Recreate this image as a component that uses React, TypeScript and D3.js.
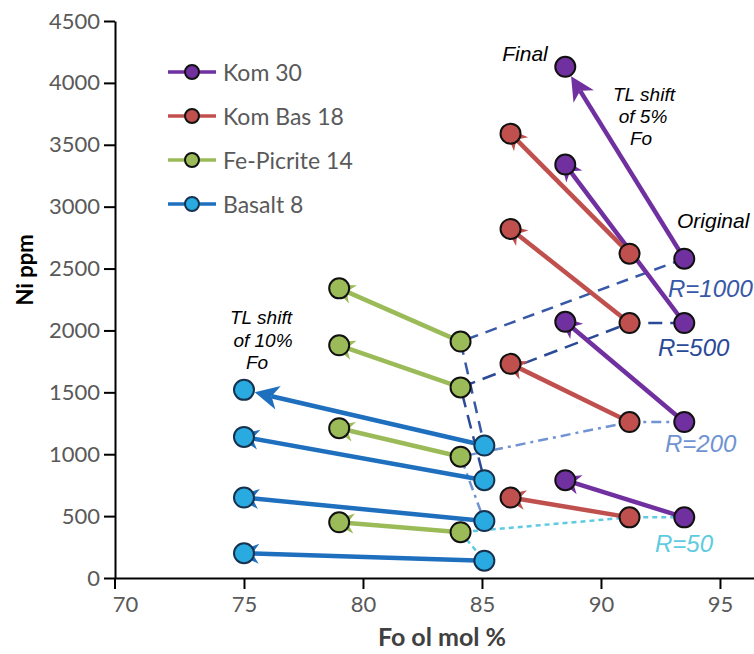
import React, { useEffect, useRef } from "react";
import * as d3 from "d3";

// series (magmas)
const seriesNames = ["Kom 30", "Kom Bas 18", "Fe-Picrite 14", "Basalt 8"];
const foOriginal = [93.5, 91.2, 84.1, 85.1];
const foFinal = [88.5, 86.2, 79.0, 75.0];

// Ni ppm, one value per R (1000, 500, 200, 50)
const kom30Original = [2580, 2060, 1260, 490];
const kom30Final = [4130, 3340, 2070, 790];
const komBas18Original = [2620, 2060, 1260, 490];
const komBas18Final = [3590, 2820, 1730, 650];
const fePicrite14Original = [1910, 1540, 980, 370];
const fePicrite14Final = [2340, 1880, 1210, 450];
const basalt8Original = [1070, 790, 460, 140];
const basalt8Final = [1520, 1140, 650, 200];

const rLabels = ["R=1000", "R=500", "R=200", "R=50"];
// series each R curve goes through (R=1000 skips Kom Bas 18)
const rMembers = [[0, 2, 3], [0, 1, 2, 3], [0, 1, 2, 3], [0, 1, 2, 3]];

const xTicks = [70, 75, 80, 85, 90, 95];
const yTicks = [0, 500, 1000, 1500, 2000, 2500, 3000, 3500, 4000, 4500];

const originals = [kom30Original, komBas18Original, fePicrite14Original, basalt8Original];
const finals = [kom30Final, komBas18Final, fePicrite14Final, basalt8Final];

const lineColors = ["#7030a0", "#c0504d", "#9bbb59", "#1f6fbf"];
const fillColors = ["#7030a0", "#c0504d", "#9bbb59", "#29abe2"];
const strokeColors = ["#111", "#111", "#111", "#17324f"];
const rColors = ["#3858a8", "#2a4997", "#7093d2", "#5ecbe0"];
const rDash = ["12,8", "14,8", "10,5,3,5", "5,4"];

function App() {
  const ref = useRef<SVGSVGElement>(null);

  useEffect(() => {
    const svg = d3.select(ref.current);
    svg.selectAll("*").remove();

    const x = d3.scaleLinear().domain([69.58, 96.43]).range([115, 754]);
    const y = d3.scaleLinear().domain([0, 4500]).range([578, 21]);
    const R = 10;

    // axes
    const yAxis = svg.append("g")
      .attr("transform", "translate(115,0)")
      .call(d3.axisLeft(y).tickValues(yTicks).tickFormat(d3.format("d")).tickSize(11).tickSizeOuter(0).tickPadding(4));
    const xAxis = svg.append("g")
      .attr("transform", "translate(0,578)")
      .call(d3.axisBottom(x).tickValues(xTicks).tickFormat(d3.format("d")).tickSize(11).tickSizeOuter(0).tickPadding(7));
    [yAxis, xAxis].forEach(a => {
      a.selectAll("path, line").attr("stroke", "#000").attr("stroke-width", 2);
      a.selectAll("text")
        .attr("fill", "#595959")
        .style("font-family", "Lato, sans-serif")
        .style("font-size", "22px");
    });
    xAxis.selectAll(".tick line").filter((d: any) => d === 70).remove();
    svg.append("line")
      .attr("x1", 115).attr("x2", 115).attr("y1", 578).attr("y2", 589)
      .attr("stroke", "#000").attr("stroke-width", 2);

    svg.append("text")
      .attr("transform", "translate(24,270) rotate(-90)")
      .attr("text-anchor", "middle").attr("dominant-baseline", "central")
      .style("font-family", "Lato, sans-serif").style("font-weight", "bold").style("font-size", "22px")
      .attr("fill", "#000").text("Ni ppm");
    svg.append("text")
      .attr("x", 442).attr("y", 636)
      .attr("text-anchor", "middle").attr("dominant-baseline", "central")
      .style("font-family", "Lato, sans-serif").style("font-weight", "bold").style("font-size", "25px")
      .attr("fill", "#404040").text("Fo ol mol %");

    // R curves through the original compositions
    const lineGen = d3.line<number[]>().x(d => d[0]).y(d => d[1]);
    rLabels.forEach((lab, k) => {
      const pts = rMembers[k].map(s => [x(foOriginal[s]), y(originals[s][k])]);
      svg.append("path")
        .attr("d", lineGen(pts))
        .attr("fill", "none")
        .attr("stroke", rColors[k])
        .attr("stroke-width", 2.5)
        .attr("stroke-dasharray", rDash[k]);
    });

    // arrows original -> final
    const arrowG = svg.append("g");
    const headG = svg.append("g");
    seriesNames.forEach((name, s) => {
      originals[s].forEach((v, k) => {
        const x0 = x(foOriginal[s]), y0 = y(v);
        const x1 = x(foFinal[s]), y1 = y(finals[s][k]);
        const len = Math.hypot(x1 - x0, y1 - y0);
        const ux = (x1 - x0) / len, uy = (y1 - y0) / len;
        const big = k === 0 && (s === 0 || s === 3);
        let tipX, tipY, L, Wd;
        if (big) {
          tipX = x1 - ux * (R + 1); tipY = y1 - uy * (R + 1); L = 24; Wd = 12;
        } else {
          tipX = x1 + ux * (R - 1); tipY = y1 + uy * (R - 1); L = 24; Wd = 10;
        }
        const bx = tipX - ux * L, by = tipY - uy * L;
        const nx = tipX - ux * L * 0.72, ny = tipY - uy * L * 0.72;
        arrowG.append("line")
          .attr("x1", x0).attr("y1", y0)
          .attr("x2", big ? nx : x1).attr("y2", big ? ny : y1)
          .attr("stroke", lineColors[s]).attr("stroke-width", 4.5);
        const px = -uy, py = ux;
        headG.append("path")
          .attr("d", `M${tipX},${tipY}L${bx + px * Wd},${by + py * Wd}L${nx},${ny}L${bx - px * Wd},${by - py * Wd}Z`)
          .attr("fill", lineColors[s]);
      });
    });

    // markers
    seriesNames.forEach((name, s) => {
      originals[s].forEach((v, k) => {
        [[foOriginal[s], v], [foFinal[s], finals[s][k]]].forEach(p => {
          svg.append("circle")
            .attr("cx", x(p[0])).attr("cy", y(p[1])).attr("r", R)
            .attr("fill", fillColors[s]).attr("stroke", strokeColors[s]).attr("stroke-width", 2);
        });
      });
    });

    // legend
    const leg = svg.append("g");
    seriesNames.forEach((name, s) => {
      const ly = 72 + s * 44;
      leg.append("line").attr("x1", 168).attr("x2", 216).attr("y1", ly).attr("y2", ly)
        .attr("stroke", lineColors[s]).attr("stroke-width", 3.5);
      leg.append("circle").attr("cx", 192).attr("cy", ly).attr("r", 7)
        .attr("fill", fillColors[s]).attr("stroke", strokeColors[s]).attr("stroke-width", 2);
      leg.append("text").attr("x", 223).attr("y", ly)
        .attr("dominant-baseline", "central")
        .style("font-family", "Lato, sans-serif").style("font-size", "23px")
        .attr("fill", "#595959").text(name);
    });

    // annotations
    const note = (t: string, tx: number, ty: number, size: number, anchor = "middle", color = "#000") =>
      svg.append("text").attr("x", tx).attr("y", ty)
        .attr("text-anchor", anchor).attr("dominant-baseline", "central")
        .style("font-family", "'Liberation Sans', Arial, sans-serif").style("font-style", "italic")
        .style("font-size", size + "px").attr("fill", color).text(t);
    note("Final", 525, 53, 21);
    note("TL shift", 644, 94, 19);
    note("of 5%", 643, 116, 19);
    note("Fo", 641, 138, 19);
    note("Original", 677, 220, 21, "start");
    note("TL shift", 261, 317, 19);
    note("of 10%", 263, 340, 19);
    note("Fo", 257, 362, 19);
    const rPos = [[668, 288], [658, 347], [665, 443], [655, 543]];
    rLabels.forEach((lab, k) => note(lab, rPos[k][0], rPos[k][1], 24, "start", rColors[k]));
  }, []);

  return (
    <svg ref={ref} width={754} height={654}
      style={{ position: "absolute", left: 0, top: 0, background: "#fff" }} />
  );
}

export default App;
